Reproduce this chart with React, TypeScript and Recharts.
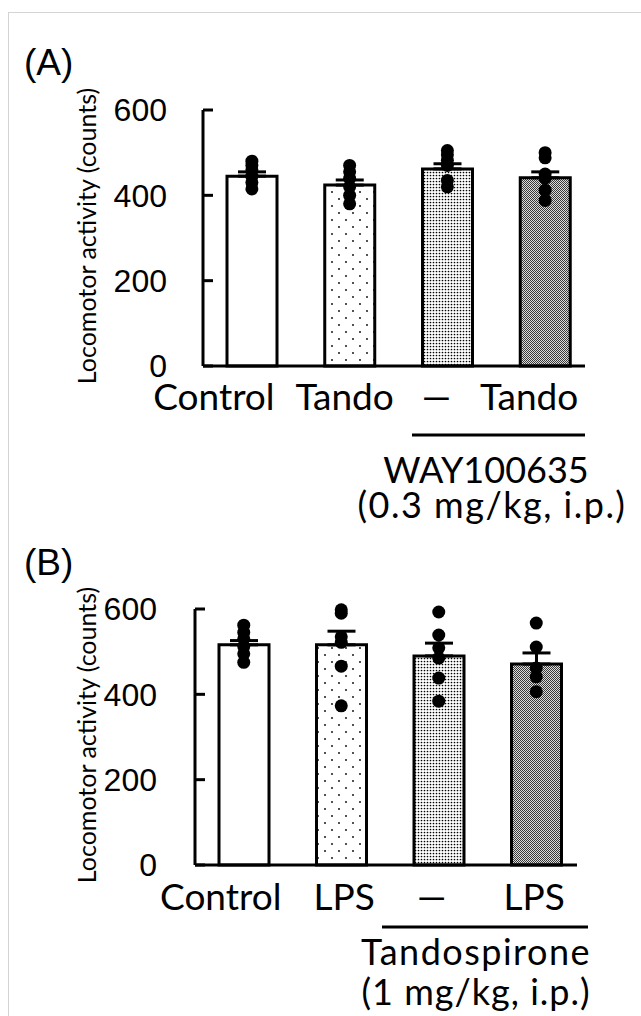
import {
  Bar,
  Cell,
  ComposedChart,
  ErrorBar,
  Scatter,
  XAxis,
  YAxis,
} from "recharts";

// panel A: WAY100635 experiment
const groupsA = ["ctrl", "tando", "way", "wayTando"];
const labelsA = ["Control", "Tando", "—", "Tando"];
const meansA = [445, 424, 462, 441];
const semA = [10, 12, 12, 14];
const dotsA = [
  [480, 470, 460, 445, 430, 415],
  [470, 455, 440, 420, 400, 380],
  [505, 495, 482, 470, 435, 420],
  [500, 488, 450, 440, 412, 388],
];

// panel B: LPS / tandospirone experiment
const groupsB = ["ctrl", "lps", "tando", "tandoLps"];
const labelsB = ["Control", "LPS", "—", "LPS"];
const meansB = [516, 516, 490, 471];
const semB = [10, 32, 30, 26];
const dotsB = [
  [562, 545, 530, 512, 495, 475],
  [598, 590, 535, 522, 466, 373],
  [593, 539, 509, 485, 438, 384],
  [567, 511, 462, 441, 406],
];

const yTicks = [0, 200, 400, 600];

const LABEL_FONT = "Lato, 'Open Sans', sans-serif";
const NUM_FONT = "'Liberation Sans', Arial, sans-serif";

const fills = (p: string) => ["#fff", `url(#${p}-sparse)`, `url(#${p}-dense)`, `url(#${p}-check)`];

function Patterns({ p }: { p: string }) {
  return (
    <defs>
      <pattern id={`${p}-sparse`} width={14} height={14} patternUnits="userSpaceOnUse">
        <rect width={14} height={14} fill="#fff" />
        <circle cx={3} cy={3} r={0.9} fill="#000" />
        <circle cx={10} cy={10} r={0.9} fill="#000" />
      </pattern>
      <pattern id={`${p}-dense`} width={3} height={3} patternUnits="userSpaceOnUse">
        <rect width={3} height={3} fill="#fff" />
        <circle cx={1.5} cy={1.5} r={0.85} fill="#000" />
      </pattern>
      <pattern id={`${p}-check`} width={2} height={2} patternUnits="userSpaceOnUse">
        <rect width={2} height={2} fill="#dcdcdc" />
        <rect width={1} height={1} fill="#3a3a3a" />
        <rect x={1} y={1} width={1} height={1} fill="#3a3a3a" />
      </pattern>
    </defs>
  );
}

const Dot = (props: any) => <circle cx={props.cx} cy={props.cy} r={6.5} fill="#000" />;

type PanelProps = {
  id: string;
  groups: string[];
  labels: string[];
  means: number[];
  sem: number[];
  dots: number[][];
  top: number;
  height: number;
  margin: { top: number; right: number; bottom: number };
  axisX: number;
  padRight: number;
  tickMargin: number;
  labelShift: number[];
  labelDy: number;
};

function Panel(props: PanelProps) {
  const rows = props.groups.map((g, i) => ({
    id: g,
    label: props.labels[i],
    mean: props.means[i],
    err: [0, props.sem[i]],
  }));
  const points = props.dots.flatMap((vals, i) =>
    vals.map((v) => ({ id: props.groups[i], value: v }))
  );
  const colors = fills(props.id);

  const CatTick = (t: any) => (
    <text
      x={t.x + props.labelShift[t.index]}
      y={t.y + props.labelDy}
      textAnchor="middle"
      fontFamily={LABEL_FONT}
      fontSize={37}
      fill="#000"
    >
      {props.labels[t.index]}
    </text>
  );

  const YLabel = (l: any) => {
    const vb = l.viewBox;
    const cx = 86;
    const cy = vb.y + vb.height / 2 - 2;
    return (
      <text
        x={cx}
        y={cy}
        transform={`rotate(-90, ${cx}, ${cy})`}
        textAnchor="middle"
        dominantBaseline="central"
        fontFamily={LABEL_FONT}
        fontSize={25}
        fill="#000"
      >
        Locomotor activity (counts)
      </text>
    );
  };

  return (
    <div style={{ position: "absolute", left: 0, top: props.top }}>
      <ComposedChart
        width={641}
        height={props.height}
        data={rows}
        margin={{ top: props.margin.top, right: props.margin.right, bottom: props.margin.bottom, left: 0 }}
      >
        <Patterns p={props.id} />
        <XAxis
          dataKey="id"
          type="category"
          allowDuplicatedCategory={false}
          height={40}
          padding={{ left: 0, right: props.padRight }}
          axisLine={{ stroke: "#000", strokeWidth: 3 }}
          tickLine={false}
          tickSize={0}
          tickMargin={0}
          tick={CatTick}
          interval={0}
        />
        <YAxis
          width={props.axisX}
          domain={[0, 600]}
          ticks={yTicks}
          axisLine={{ stroke: "#000", strokeWidth: 3 }}
          tickLine={{ stroke: "#000", strokeWidth: 3 }}
          tickSize={-10}
          tickMargin={props.tickMargin}
          tick={{ fill: "#000", fontSize: 32, fontFamily: NUM_FONT }}
          label={{ value: "Locomotor activity (counts)", content: YLabel }}
        />
        <Bar
          dataKey="mean"
          barSize={50}
          stroke="#000"
          strokeWidth={3}
          isAnimationActive={false}
        >
          {rows.map((r, i) => (
            <Cell key={r.id} fill={colors[i]} />
          ))}
          <ErrorBar dataKey="err" direction="y" width={14} stroke="#000" strokeWidth={3} />
        </Bar>
        <Scatter data={points} dataKey="value" shape={Dot} isAnimationActive={false} />
      </ComposedChart>
    </div>
  );
}

function Annotations() {
  const txt = { fontFamily: LABEL_FONT, fontSize: 36, fill: "#000" };
  return (
    <svg
      width={641}
      height={1016}
      style={{ position: "absolute", left: 0, top: 0, pointerEvents: "none" }}
    >
      <line x1={8.5} y1={12} x2={8.5} y2={1016} stroke="#d4d4d4" strokeWidth={1} />
      <line x1={8} y1={12.5} x2={641} y2={12.5} stroke="#d4d4d4" strokeWidth={1} />
      <text x={24} y={75} fontFamily={NUM_FONT} fontSize={37} fill="#000">(A)</text>
      <text x={24} y={575} fontFamily={NUM_FONT} fontSize={37} fill="#000">(B)</text>
      <line x1={412} y1={435} x2={585} y2={435} stroke="#000" strokeWidth={3} />
      <text x={486} y={483} textAnchor="middle" {...txt}>WAY100635</text>
      <text x={492} y={518} textAnchor="middle" letterSpacing={1.5} {...txt}>(0.3 mg/kg, i.p.)</text>
      <line x1={382} y1={927} x2={588} y2={927} stroke="#000" strokeWidth={3} />
      <text x={476} y={965} textAnchor="middle" letterSpacing={1.5} {...txt}>Tandospirone</text>
      <text x={476} y={1005} textAnchor="middle" letterSpacing={1} {...txt}>(1 mg/kg, i.p.)</text>
    </svg>
  );
}

export default function App() {
  return (
    <div style={{ position: "absolute", left: 0, top: 0, width: 641, height: 1016, background: "#fff", overflow: "hidden" }}>
      <Panel
        id="pa"
        groups={groupsA}
        labels={labelsA}
        means={meansA}
        sem={semA}
        dots={dotsA}
        top={0}
        height={540}
        margin={{ top: 110, right: 56, bottom: 134 }}
        axisX={203}
        padRight={-9}
        tickMargin={46}
        labelShift={[-38, -5, -11, -16]}
        labelDy={44}
      />
      <Panel
        id="pb"
        groups={groupsB}
        labels={labelsB}
        means={meansB}
        sem={semB}
        dots={dotsB}
        top={540}
        height={476}
        margin={{ top: 69, right: 64, bottom: 111 }}
        axisX={195}
        padRight={-8}
        tickMargin={48}
        labelShift={[-23, 3, -7, -2]}
        labelDy={45}
      />
      <Annotations />
    </div>
  );
}
